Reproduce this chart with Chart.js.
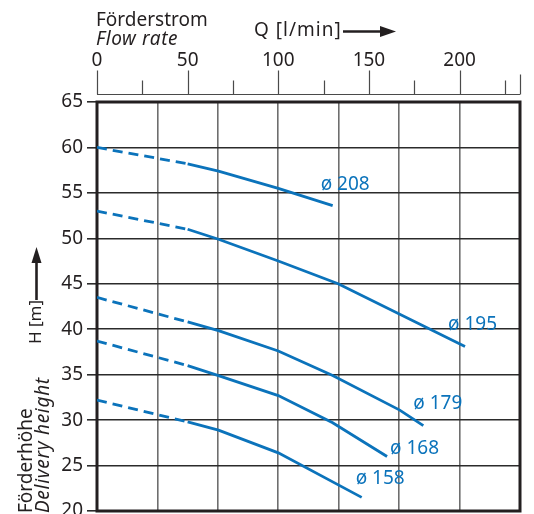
<!DOCTYPE html>
<html lang="de">
<head>
  <meta charset="UTF-8">
  <title>Kennlinien Förderstrom / Förderhöhe</title>
  <script src="https://cdn.jsdelivr.net/npm/chart.js"></script>
  <style>
    html, body { margin: 0; padding: 0; background: #fff; }
    #wrap { width: 534px; height: 514px; }
  </style>
</head>
<body>
  <div id="wrap"><canvas id="pumpChart"></canvas></div>
  <script>
    // Kennlinien je Laufraddurchmesser: Förderstrom Q [l/min], Förderhöhe H [m]
    const q208 = [0, 50, 67, 100, 130];
    const h208 = [60, 58.2, 57.4, 55.5, 53.6];
    const q195 = [0, 50, 67, 100, 133, 203];
    const h195 = [53, 51, 49.9, 47.5, 45, 38.1];
    const q179 = [0, 50, 67, 100, 130, 167, 180];
    const h179 = [43.5, 40.8, 39.85, 37.6, 34.9, 31.1, 29.4];
    const q168 = [0, 50, 67, 100, 130, 160];
    const h168 = [38.7, 36, 34.9, 32.7, 29.7, 26];
    const q158 = [0, 50, 67, 100, 146];
    const h158 = [32.2, 29.8, 28.9, 26.4, 21.5];
    const curveNames = ['ø 208', 'ø 195', 'ø 179', 'ø 168', 'ø 158'];

    // Achsen
    const qMax = 700 / 3;                                   // 14 m³/h
    const qTicks = [0, 25, 50, 75, 100, 125, 150, 175, 200, 225, qMax];
    const qGrid = [0, 2, 4, 6, 8, 10, 12, 14].map(m3h => m3h * 1000 / 60);
    const hTicks = [20, 25, 30, 35, 40, 45, 50, 55, 60, 65];

    const BLUE = '#0b73bb';
    const INK = '#231f20';
    const FONT = '"Noto Sans", sans-serif';

    // Beschriftung neben dem Kurvenende (Versatz in px)
    const labelOffsets = [[-12, -21], [-17, -22], [-10, -22], [3, -8], [-6, -19]];

    const series = [[q208, h208], [q195, h195], [q179, h179], [q168, h168], [q158, h158]];

    Chart.defaults.font.family = FONT;

    // feste Achsmaße, ohne automatischen Randausgleich
    const fixSize = (w, h) => s => {
      if (w !== null) s.width = w;
      if (h !== null) s.height = h;
      s.paddingLeft = s.paddingRight = s.paddingTop = s.paddingBottom = 0;
    };

    const framePlugin = {
      id: 'frame',
      beforeDatasetsDraw(chart) {
        const { ctx, chartArea: a, scales } = chart;
        ctx.save();
        // Rahmen
        ctx.strokeStyle = INK;
        ctx.lineWidth = 3;
        ctx.strokeRect(a.left, a.top, a.right - a.left, a.bottom - a.top);
        // obere Q-Skala mit Teilstrichen
        const top = scales.xTop;
        const yLine = 94.5;
        ctx.strokeStyle = '#4a4a4a';
        ctx.lineWidth = 1.2;
        ctx.beginPath();
        ctx.moveTo(top.getPixelForValue(0), yLine);
        ctx.lineTo(top.getPixelForValue(qMax), yLine);
        qTicks.forEach(v => {
          const x = Math.round(top.getPixelForValue(v)) + 0.5;
          const len = v % 50 === 0 ? 24 : (v === qMax ? 20 : 14);
          ctx.moveTo(x, yLine);
          ctx.lineTo(x, yLine - len);
        });
        ctx.stroke();
        ctx.restore();
      }
    };

    function arrow(ctx, x1, y1, x2, y2, head, half) {
      const ang = Math.atan2(y2 - y1, x2 - x1);
      const bx = x2 - head * Math.cos(ang), by = y2 - head * Math.sin(ang);
      ctx.beginPath();
      ctx.moveTo(x1, y1);
      ctx.lineTo(bx, by);
      ctx.stroke();
      ctx.beginPath();
      ctx.moveTo(x2, y2);
      ctx.lineTo(bx + half * Math.sin(ang), by - half * Math.cos(ang));
      ctx.lineTo(bx - half * Math.sin(ang), by + half * Math.cos(ang));
      ctx.closePath();
      ctx.fill();
    }

    const titlesPlugin = {
      id: 'titles',
      afterDraw(chart) {
        const ctx = chart.ctx;
        ctx.save();
        ctx.fillStyle = INK;
        ctx.strokeStyle = INK;
        ctx.textAlign = 'left';
        ctx.textBaseline = 'alphabetic';

        ctx.font = '19px ' + FONT;
        ctx.fillText('Förderstrom', 96, 25.5);
        ctx.letterSpacing = '1px';
        ctx.fillText('Q [l/min]', 254, 36);
        ctx.letterSpacing = '0.6px';
        ctx.font = 'italic 19px ' + FONT;
        ctx.fillText('Flow rate', 96, 45);
        ctx.letterSpacing = '0px';

        ctx.lineWidth = 2.6;
        arrow(ctx, 343, 31.5, 396, 31.5, 16, 5.5);
        arrow(ctx, 36.5, 300, 36.5, 247, 16, 5);

        const vText = (txt, x, y, font, spacing) => {
          ctx.save();
          ctx.translate(x, y);
          ctx.rotate(-Math.PI / 2);
          ctx.font = font;
          ctx.letterSpacing = spacing;
          ctx.fillText(txt, 0, 0);
          ctx.restore();
        };
        vText('Förderhöhe', 32, 513, '19px ' + FONT, '0px');
        vText('Delivery height', 49, 513, 'italic 19px ' + FONT, '0.7px');
        vText('H [m]', 41, 344, '17px ' + FONT, '0px');

        // Durchmesser an den Kurven
        ctx.fillStyle = BLUE;
        ctx.font = '19px ' + FONT;
        ctx.textBaseline = 'middle';
        curveNames.forEach((name, i) => {
          const pts = chart.getDatasetMeta(i).data;
          const end = pts[pts.length - 1];
          ctx.fillText(name, end.x + labelOffsets[i][0], end.y + labelOffsets[i][1]);
        });
        ctx.restore();
      }
    };

    const datasets = series.map(([q, h], i) => ({
      label: curveNames[i],
      data: q.map((v, k) => ({ x: v, y: h[k] })),
      borderColor: BLUE,
      borderWidth: 2.8,
      pointRadius: 0,
      tension: 0,
      fill: false,
      // Bereich bis 50 l/min gestrichelt
      segment: {
        borderDash: c => (c.p1.parsed.x <= 50 ? [10, 6] : undefined)
      }
    }));

    new Chart(document.getElementById('pumpChart'), {
      type: 'line',
      data: { datasets },
      options: {
        responsive: true,
        maintainAspectRatio: false,
        animation: false,
        layout: { autoPadding: false, padding: { top: 0, right: 14, bottom: 3, left: 0 } },
        plugins: {
          legend: { display: false },
          tooltip: { enabled: false }
        },
        scales: {
          x: {
            type: 'linear',
            position: 'bottom',
            min: 0,
            max: qMax,
            afterBuildTicks: s => { s.ticks = qGrid.map(v => ({ value: v })); },
            afterFit: fixSize(null, 0),
            ticks: { display: false },
            grid: { color: '#6e6e6e', lineWidth: 1.6, drawTicks: false },
            border: { display: false }
          },
          xTop: {
            type: 'linear',
            position: 'top',
            min: 0,
            max: qMax,
            afterBuildTicks: s => { s.ticks = qTicks.map(v => ({ value: v })); },
            afterFit: fixSize(null, 102),
            ticks: {
              autoSkip: false,
              maxRotation: 0,
              padding: 30,
              color: INK,
              font: { size: 19 },
              callback: v => (v % 50 === 0 ? String(v) : '')
            },
            grid: { drawOnChartArea: false, drawTicks: false },
            border: { display: false }
          },
          y: {
            min: 20,
            max: 65,
            afterBuildTicks: s => { s.ticks = hTicks.map(v => ({ value: v })); },
            afterFit: fixSize(97, null),
            ticks: { padding: 4, color: INK, font: { size: 19 } },
            grid: { color: '#2b2b2b', lineWidth: 1.6, tickLength: 10, tickColor: '#2b2b2b', tickWidth: 1.6 },
            border: { display: false }
          }
        }
      },
      plugins: [framePlugin, titlesPlugin]
    });
  </script>
</body>
</html>
